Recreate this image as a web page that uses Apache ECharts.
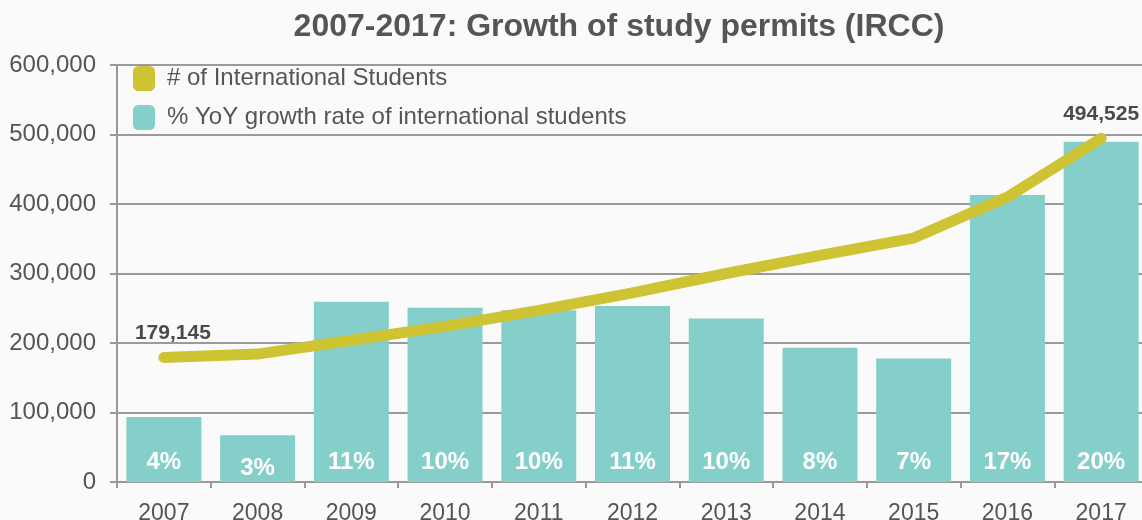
<!DOCTYPE html>
<html>
<head>
<meta charset="utf-8">
<script src="https://cdn.jsdelivr.net/npm/echarts@6/dist/echarts.min.js"></script>
<style>
  html, body { margin: 0; padding: 0; background: #fafafa; }
  #chart { width: 1142px; height: 520px; }
</style>
</head>
<body>
<div id="chart"></div>
<script>
// Study permit holders in Canada, 2007-2017
const years = ['2007', '2008', '2009', '2010', '2011', '2012', '2013', '2014', '2015', '2016', '2017'];
const students = [179145, 184000, 204000, 224000, 247000, 272000, 300000, 326000, 351000, 410000, 494525];
const growthPct = [3.9, 2.8, 10.8, 10.45, 10.3, 10.55, 9.8, 8.05, 7.4, 17.2, 20.4];
const countTicks = [0, 100000, 200000, 300000, 400000, 500000, 600000];

const textColor = '#555555';
const fontFamily = 'Liberation Sans, Arial, sans-serif';

const chart = echarts.init(document.getElementById('chart'));

// Only the first and last counts carry a value label
const lineData = students.map((v, i) => {
  if (i === 0) return { value: v, label: { show: true, offset: [9, 0] } };
  if (i === students.length - 1) return { value: v, label: { show: true } };
  return v;
});

// The short 2008 bar has its label sitting a little lower
const barData = growthPct.map((v, i) =>
  i === 1 ? { value: v, label: { offset: [0, 6] } } : v
);

chart.setOption({
  backgroundColor: '#fafafa',
  animation: false,
  title: {
    text: '2007-2017: Growth of study permits (IRCC)',
    left: 614,
    textAlign: 'center',
    top: 6,
    textStyle: { fontFamily, fontSize: 32, fontWeight: 'bold', color: textColor }
  },
  legend: {
    orient: 'vertical',
    left: 133,
    top: 66,
    padding: 0,
    itemWidth: 22,
    itemHeight: 25,
    itemGap: 14,
    icon: 'roundRect',
    textStyle: { fontFamily, fontSize: 24, color: textColor, padding: [0, 0, 0, 7] },
    data: ['# of International Students', '% YoY growth rate of international students']
  },
  grid: { left: 117, right: -6, top: 65, bottom: 38, containLabel: false, outerBoundsMode: 'none' },
  xAxis: {
    type: 'category',
    data: years,
    axisLine: { lineStyle: { color: '#999999', width: 2 } },
    axisTick: { show: true, length: 6, lineStyle: { color: '#999999', width: 2 } },
    axisLabel: { fontFamily, fontSize: 23, color: textColor, margin: 20 }
  },
  yAxis: [
    {
      type: 'value',
      min: countTicks[0],
      max: countTicks[countTicks.length - 1],
      interval: countTicks[1] - countTicks[0],
      axisLine: { show: true, lineStyle: { color: '#999999', width: 2 } },
      axisTick: { show: true, length: 7, lineStyle: { color: '#999999', width: 2 } },
      splitLine: { lineStyle: { color: '#9a9a9a', width: 2 } },
      axisLabel: {
        fontFamily, fontSize: 24, color: textColor, margin: 21,
        formatter: v => v.toLocaleString('en-US')
      }
    },
    {
      type: 'value',
      min: 0,
      max: 25,
      show: false,
      splitLine: { show: false }
    }
  ],
  series: [
    {
      name: '% YoY growth rate of international students',
      type: 'bar',
      yAxisIndex: 1,
      data: barData,
      barCategoryGap: '20%',
      itemStyle: { color: '#85cfcb' },
      label: {
        show: true,
        position: 'insideBottom',
        distance: 8,
        fontFamily,
        fontSize: 24,
        fontWeight: 'bold',
        color: '#ffffff',
        formatter: p => Math.round(p.value) + '%'
      },
      z: 2
    },
    {
      name: '# of International Students',
      type: 'line',
      yAxisIndex: 0,
      data: lineData,
      symbol: 'circle',
      symbolSize: 0,
      showSymbol: true,
      lineStyle: { color: '#cdc333', width: 11, cap: 'round', join: 'round' },
      itemStyle: { color: '#cdc333' },
      label: {
        show: false,
        position: 'top',
        distance: 14,
        fontFamily,
        fontSize: 21,
        fontWeight: 'bold',
        color: '#4a4a4a',
        formatter: p => p.value.toLocaleString('en-US')
      },
      z: 3
    }
  ]
});
</script>
</body>
</html>
